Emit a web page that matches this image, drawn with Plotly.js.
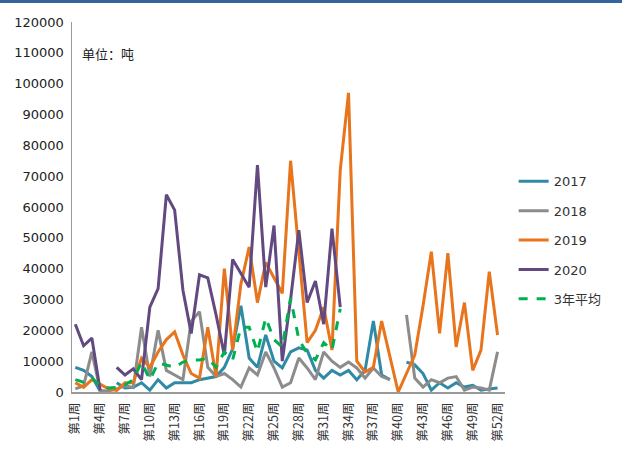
<!DOCTYPE html>
<html>
<head>
<meta charset="utf-8">
<script src="https://cdn.plot.ly/plotly-3.0.1.min.js"></script>
<style>
  html, body { margin: 0; padding: 0; background: #fff; }
  #chart { width: 622px; height: 460px; border-top: 3px solid #3464a0; }
</style>
</head>
<body>
<div id="chart"></div>
<script>
// ---- data ----
const weeks = Array.from({length: 52}, (_, i) => i + 1);
const tickWeeks = [1, 4, 7, 10, 13, 16, 19, 22, 25, 28, 31, 34, 37, 40, 43, 46, 49, 52];
const tickLabels = ["第1周","第4周","第7周","第10周","第13周","第16周","第19周","第22周","第25周","第28周","第31周","第34周","第37周","第40周","第43周","第46周","第49周","第52周"];

const s2017 = [8000,7000,5000,300,null,3000,1300,1500,3000,600,4000,1300,3000,3000,3000,4000,4500,5000,8000,14000,28000,11000,8000,18500,10000,7800,13000,14300,13600,7000,4500,7000,5500,7000,4000,7000,23000,5500,4000,null,9700,8800,6000,600,3000,1300,3000,1600,2200,600,1000,1300];
const s2018 = [1000,2000,13000,500,300,1000,2000,1500,21000,5000,20000,7000,5500,4000,23000,26000,8000,5000,6000,4000,1600,7800,5500,13000,7800,1600,3000,11000,7800,4000,13000,10000,8000,9700,7800,4500,7800,5000,4000,null,25000,4500,1600,4000,3000,4500,5000,600,1600,1300,600,13000];
const s2019 = [3000,1500,4000,2500,1000,500,3000,3000,11000,8000,13000,17000,19500,12000,6000,4500,21000,5000,40000,13600,35000,47000,29000,42000,37000,32000,75000,46000,16000,20000,27500,13600,72000,97000,10000,6500,8000,23000,11000,0,6000,12000,28000,45500,19000,45000,14600,29000,7000,13600,39000,18500];
const s2020 = [22000,15000,17500,500,null,8000,5500,7500,4000,27500,33500,64000,59000,33000,19000,38000,37000,25000,12000,43000,38500,34000,73600,34000,54000,10000,30000,52500,29000,36000,22000,53000,27500];
const sAvg = [4000,3200,4500,2000,1300,1500,2300,4000,9700,4000,9400,8800,8000,9700,10400,10400,11000,8000,13000,10400,21000,21000,13000,24000,17000,14600,30500,17000,12600,10400,16000,13600,27000];

const names = ["2017", "2018", "2019", "2020", "3年平均"];
const colors = ["#2f8aa6", "#8c8c8c", "#e8741c", "#624a80", "#00b050"];

// ---- traces ----
const series = [s2017, s2018, s2019, s2020, sAvg];
const traces = series.map((ys, i) => ({
  type: "scatter",
  mode: "lines",
  name: names[i],
  x: weeks.slice(0, ys.length),
  y: ys,
  connectgaps: false,
  legendgroup: "g" + i,
  line: { color: colors[i], width: 3, dash: i === 4 ? "dash" : "solid" }
}));

const layout = {
  width: 622,
  height: 460,
  margin: { l: 72, r: 117, t: 19, b: 71 },
  paper_bgcolor: "#ffffff",
  plot_bgcolor: "#ffffff",
  font: { family: "DejaVu Sans, sans-serif", size: 13, color: "#333333" },
  showlegend: true,
  legend: {
    x: 1.02, xanchor: "left",
    y: 0.61, yanchor: "top",
    traceorder: "grouped",
    tracegroupgap: 9.5,
    font: { family: "DejaVu Sans, Noto Sans CJK SC, sans-serif", size: 13, color: "#333333" },
    bgcolor: "rgba(0,0,0,0)"
  },
  xaxis: {
    range: [0.6, 52.9],
    tickmode: "array",
    tickvals: tickWeeks,
    ticktext: tickLabels,
    tickangle: -90,
    ticklabelstandoff: 4,
    tickfont: { family: "Noto Sans CJK SC, sans-serif", size: 12.5, color: "#333333" },
    showline: true,
    linecolor: "#999999",
    linewidth: 1.5,
    showgrid: false,
    zeroline: false,
    ticks: ""
  },
  yaxis: {
    range: [0, 120000],
    dtick: 10000,
    tickformat: "d",
    ticklabelstandoff: 4,
    tickfont: { family: "DejaVu Sans, sans-serif", size: 13, color: "#222222" },
    showline: true,
    linecolor: "#999999",
    linewidth: 1.5,
    showgrid: false,
    zeroline: false,
    ticks: ""
  },
  annotations: [{
    text: "单位：吨",
    xref: "paper", yref: "paper",
    x: 0.018, y: 0.915,
    xanchor: "left", yanchor: "middle",
    showarrow: false,
    font: { family: "Noto Sans CJK SC, sans-serif", size: 13, color: "#222222" }
  }]
};

Plotly.newPlot("chart", traces, layout, { displayModeBar: false, staticPlot: true });
</script>
</body>
</html>
